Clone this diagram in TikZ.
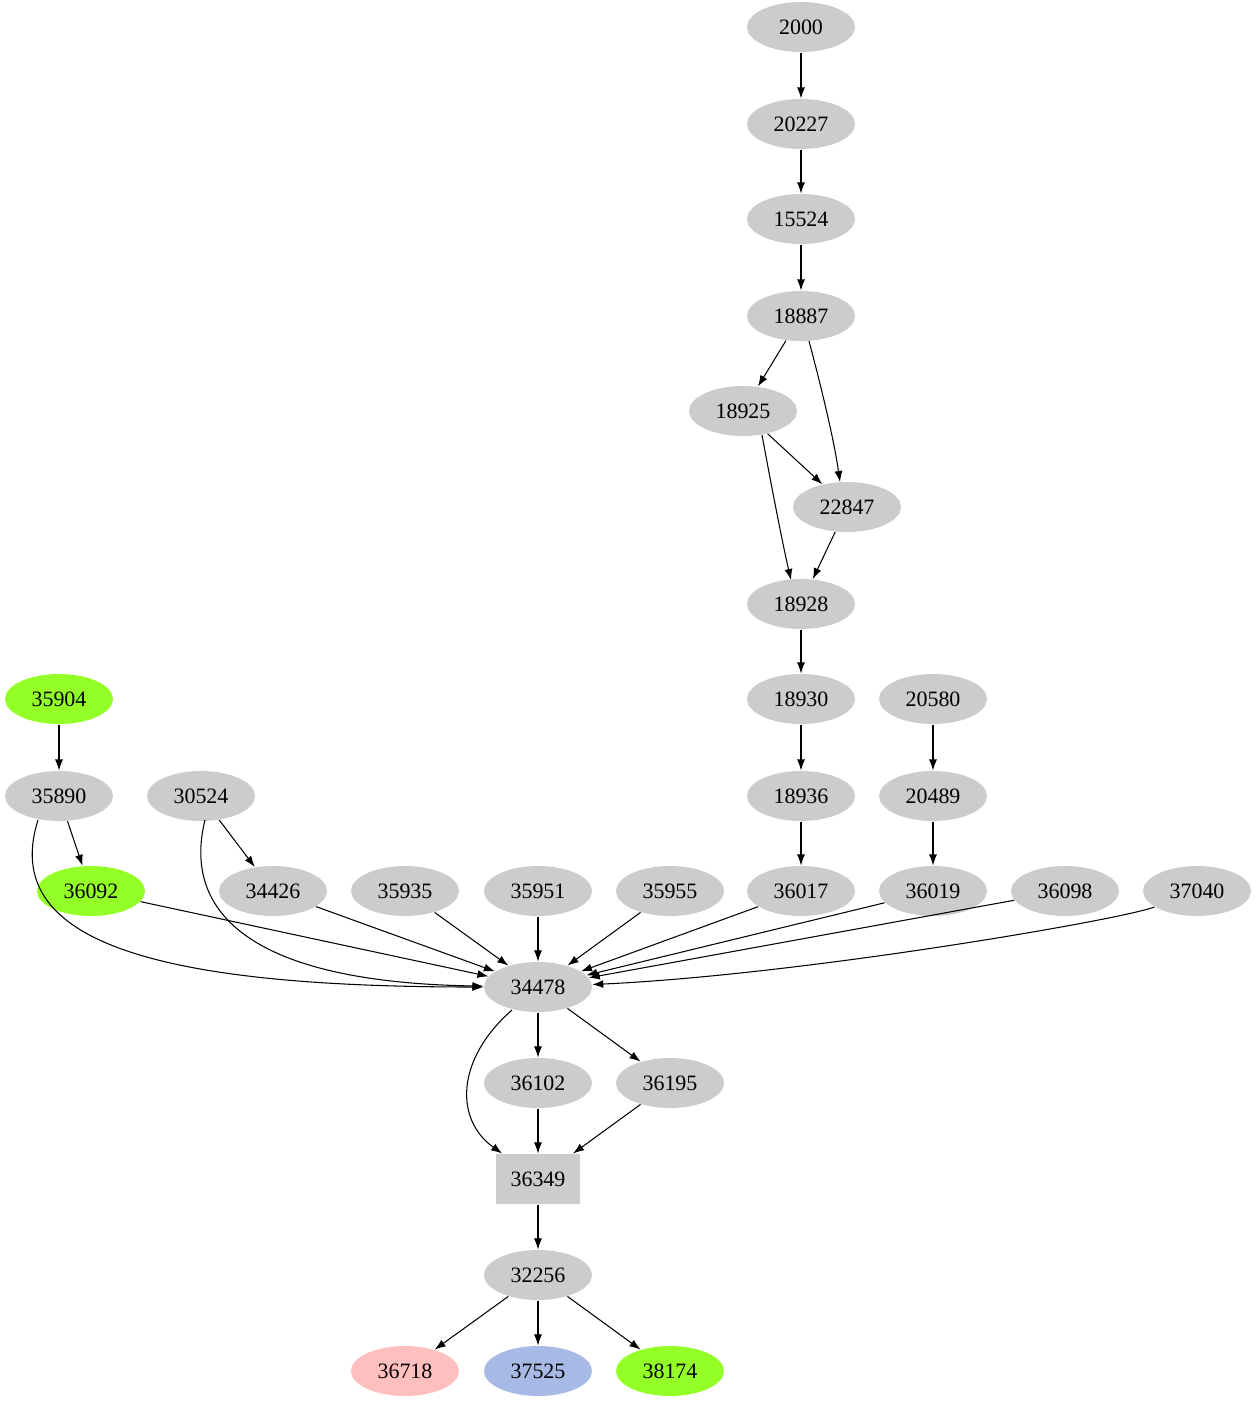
\documentclass[tikz,border=0pt]{standalone}
\usepackage{fontspec}
\setmainfont{Liberation Serif}
\usetikzlibrary{arrows.meta,shapes.geometric}
\begin{document}
\begin{tikzpicture}
[x=0.02cm, y=-0.02cm, font=\fontsize{12.5}{15}\selectfont, line width=0.6pt,
>={Latex[length=2.2mm,width=1.6mm]},
job/.style={ellipse, fill=lightgray!80, draw=none, minimum width=2.16cm, minimum height=1cm, inner sep=0pt},
jobgreen/.style={job, fill=green!50!yellow!85},
jobpink/.style={job, fill=pink},
jobblue/.style={job, fill=cyan!45!blue!35},
jobbox/.style={rectangle, fill=lightgray!80, minimum width=1.68cm, minimum height=1cm, inner sep=0pt}]

\useasboundingbox (0,0) rectangle (1257,1403);

\node[job] (n2000) at (801,27) {2000};
\node[job] (n20227) at (801,124) {20227};
\node[job] (n15524) at (801,219) {15524};
\node[job] (n18887) at (801,316) {18887};
\node[job] (n18925) at (743,411) {18925};
\node[job] (n22847) at (847,507) {22847};
\node[job] (n18928) at (801,604) {18928};
\node[job] (n18930) at (801,699) {18930};
\node[job] (n20580) at (933,699) {20580};
\node[jobgreen] (n35904) at (59,699) {35904};
\node[job] (n35890) at (59,796) {35890};
\node[job] (n30524) at (201,796) {30524};
\node[job] (n18936) at (801,796) {18936};
\node[job] (n20489) at (933,796) {20489};

\node[jobgreen] (n36092) at (91,891) {36092};
\node[job] (n34426) at (273,891) {34426};
\node[job] (n35935) at (405,891) {35935};
\node[job] (n35951) at (538,891) {35951};
\node[job] (n35955) at (670,891) {35955};
\node[job] (n36017) at (801,891) {36017};
\node[job] (n36019) at (933,891) {36019};
\node[job] (n36098) at (1065,891) {36098};
\node[job] (n37040) at (1197,891) {37040};

\node[job] (n34478) at (538,987) {34478};
\node[job] (n36102) at (538,1083) {36102};
\node[job] (n36195) at (670,1083) {36195};
\node[jobbox] (n36349) at (538,1179) {36349};
\node[job] (n32256) at (538,1275) {32256};
\node[jobpink] (n36718) at (405,1371) {36718};
\node[jobblue] (n37525) at (538,1371) {37525};
\node[jobgreen] (n38174) at (670,1371) {38174};

\draw[->] (n2000) -- (n20227);
\draw[->] (n20227) -- (n15524);
\draw[->] (n15524) -- (n18887);
\draw[->] (n18887) -- (n18925);
\draw[->] (809,341) .. controls (822,390) and (834,440) .. (840,482);
\draw[->] (n18925) -- (n22847);
\draw[->] (762,435) .. controls (774,500) and (784,550) .. (791,580);
\draw[->] (n22847) -- (n18928);
\draw[->] (n18928) -- (n18930);
\draw[->] (n18930) -- (n18936);
\draw[->] (n20580) -- (n20489);
\draw[->] (n35904) -- (n35890);
\draw[->] (n18936) -- (n36017);
\draw[->] (n20489) -- (n36019);
\draw[->] (n35890) -- (n36092);
\draw[->] (n30524) -- (n34426);

\draw[->] (38,820) .. controls (0,940) and (150,987) .. (n34478);
\draw[->] (205,820) .. controls (185,900) and (230,982) .. (n34478);
\foreach \src in {n36092,n34426,n35935,n35951,n35955,n36017,n36019,n36098}
  \draw[->] (\src) -- (n34478);
\draw[->] (n37040) .. controls (1120,920) and (800,975) .. (n34478);

\draw[->] (n34478) -- (n36102);
\draw[->] (n34478) -- (n36195);
\draw[->] (512,1010) .. controls (455,1060) and (455,1120) .. (n36349);
\draw[->] (n36102) -- (n36349);
\draw[->] (n36195) -- (n36349);
\draw[->] (n36349) -- (n32256);
\draw[->] (n32256) -- (n36718);
\draw[->] (n32256) -- (n37525);
\draw[->] (n32256) -- (n38174);
\end{tikzpicture}
\end{document}
